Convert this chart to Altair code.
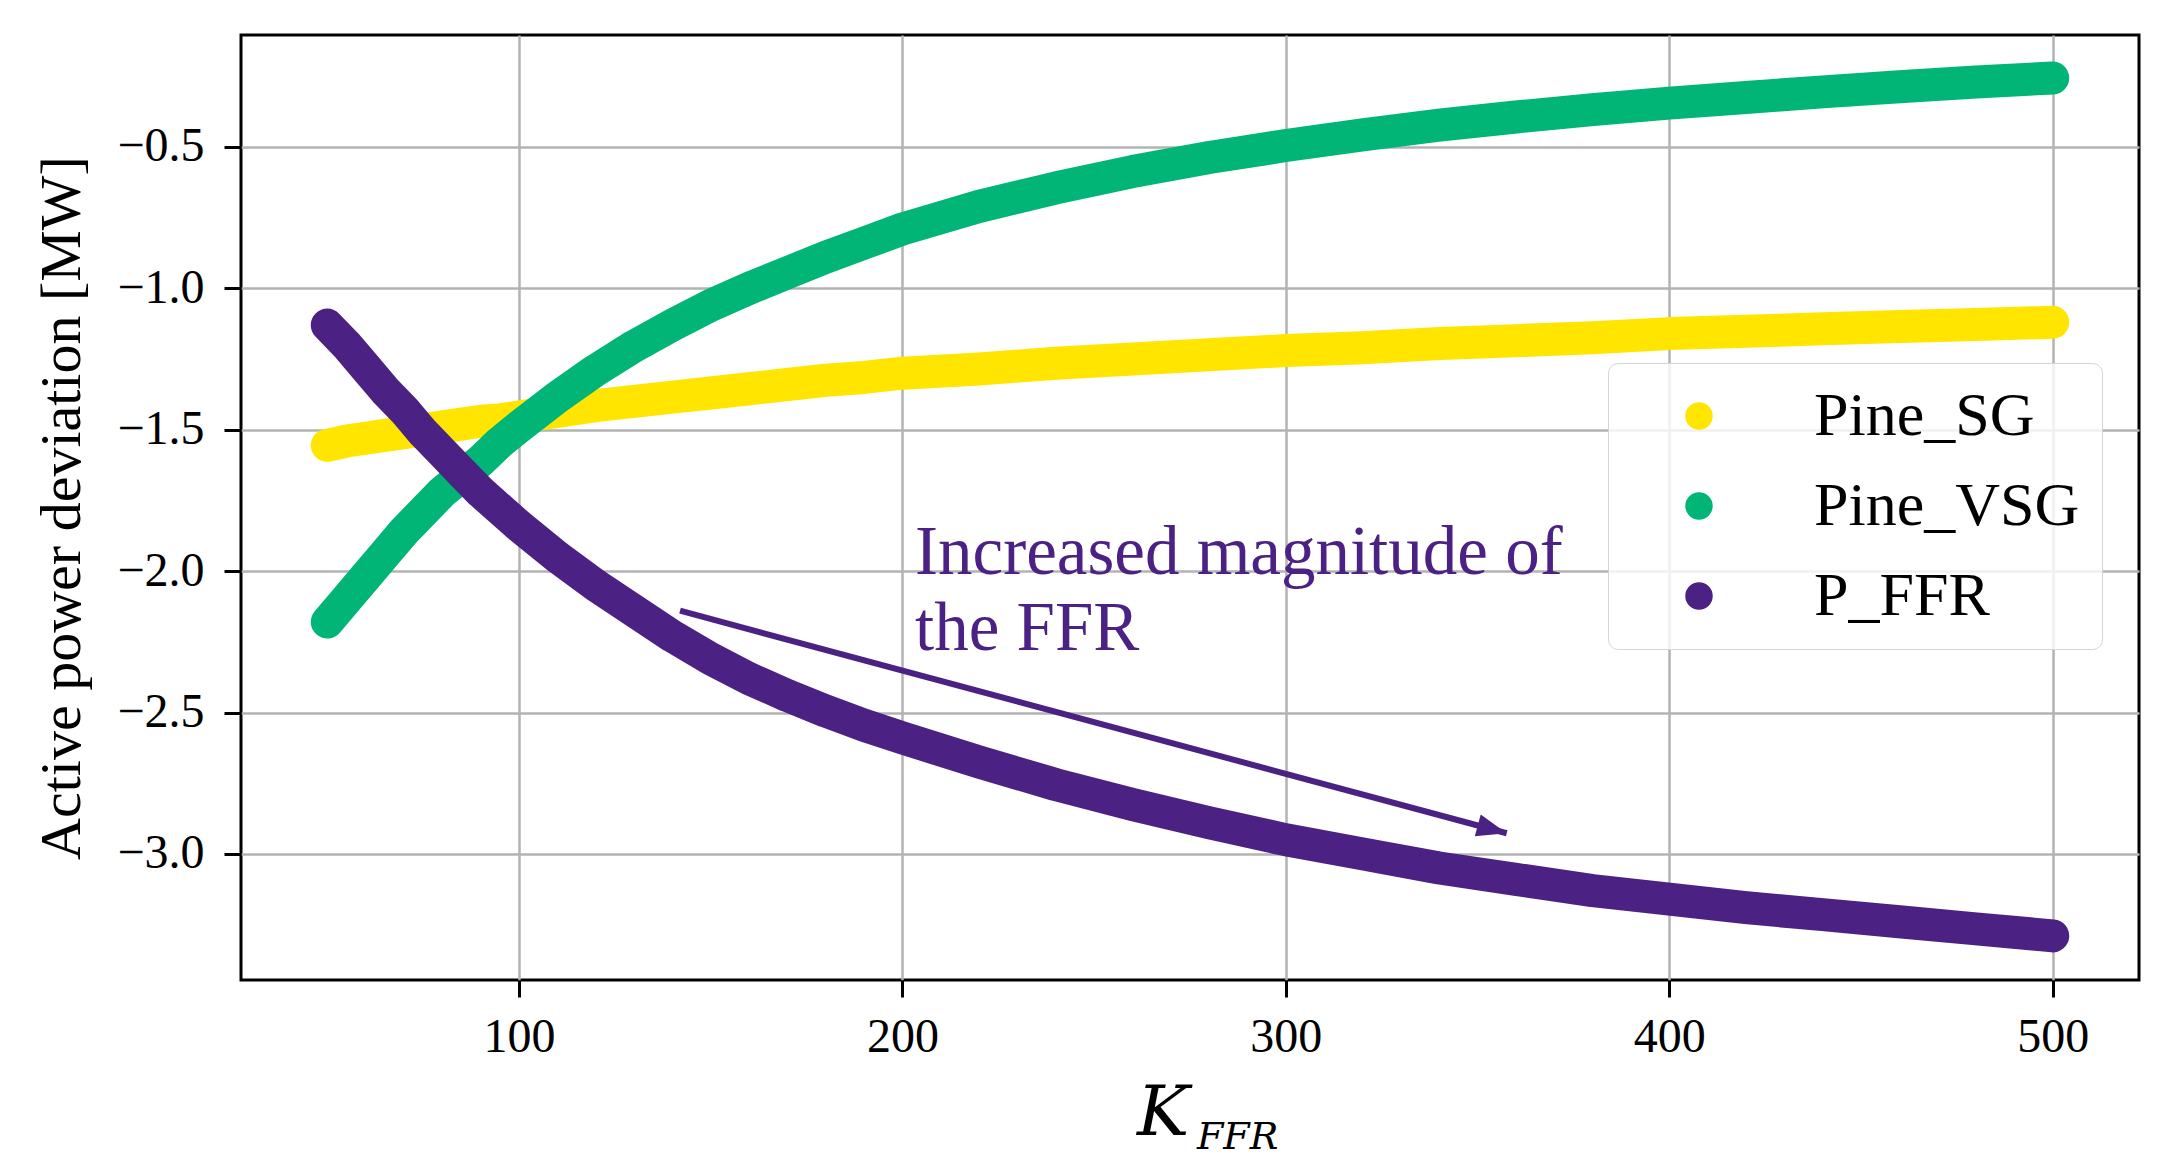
import altair as alt
import pandas as pd

# ---- data ----
K = [50, 55, 60, 65, 70, 75, 80, 85, 90, 95, 100,
     110, 120, 130, 140, 150, 160, 170, 180, 190, 200,
     220, 240, 260, 280, 300, 320, 340, 360, 380, 400, 420, 440, 460, 480, 500]

pine_sg = [-1.555, -1.54, -1.53, -1.52, -1.51, -1.50, -1.49, -1.48, -1.47, -1.465, -1.455,
           -1.435, -1.415, -1.40, -1.385, -1.37, -1.355, -1.34, -1.325, -1.315, -1.30,
           -1.285, -1.265, -1.25, -1.235, -1.22, -1.21, -1.195, -1.185, -1.175, -1.16,
           -1.152, -1.143, -1.135, -1.128, -1.12]

pine_vsg = [-2.18, -2.10, -2.02, -1.94, -1.86, -1.79, -1.72, -1.665, -1.61, -1.545, -1.49,
            -1.385, -1.29, -1.205, -1.13, -1.06, -1.0, -0.945, -0.89, -0.84, -0.79,
            -0.71, -0.645, -0.587, -0.537, -0.495, -0.457, -0.423, -0.394, -0.368, -0.345,
            -0.325, -0.305, -0.287, -0.27, -0.256]

p_ffr = [-1.13, -1.20, -1.28, -1.36, -1.43, -1.51, -1.58, -1.65, -1.72, -1.78, -1.84,
         -1.95, -2.05, -2.14, -2.23, -2.31, -2.38, -2.44, -2.495, -2.545, -2.59,
         -2.675, -2.755, -2.825, -2.89, -2.95, -3.00, -3.05, -3.09, -3.13, -3.16,
         -3.19, -3.215, -3.24, -3.265, -3.29]

series_names = ["Pine_SG", "Pine_VSG", "P_FFR"]
series_colors = ["#FFE500", "#00B576", "#4B2183"]

x_ticks = [100, 200, 300, 400, 500]
y_ticks = [-3.0, -2.5, -2.0, -1.5, -1.0, -0.5]

annot_lines = ["Increased magnitude of", "the FFR"]
annot_x = [203.3, 203.3]
annot_y = [-2.01, -2.28]

arrow_x = [142.0, 357.6]
arrow_y = [-2.14, -2.927]

# ---- build ----
X_DOM = [27.5, 522.5]
Y_DOM = [-3.446, -0.104]
W, H = 1898, 945
SERIF = "Liberation Serif"

xs = alt.Scale(domain=X_DOM, nice=False, zero=False)
ys = alt.Scale(domain=Y_DOM, nice=False, zero=False)
cs = alt.Scale(domain=series_names, range=series_colors)

x_axis = alt.Axis(values=x_ticks, title=None, labelFont=SERIF, labelFontSize=48,
                  labelColor="black", tickSize=17, tickWidth=3, tickColor="black",
                  labelPadding=16, domain=False, grid=True, gridColor="#b3b3b3",
                  gridWidth=2.5, format="d")
y_axis = alt.Axis(values=y_ticks, title="Active power deviation [MW]", format=".1f",
                  labelFont=SERIF, labelFontSize=48, labelColor="black", tickSize=17,
                  tickWidth=3, tickColor="black", labelPadding=20, domain=False,
                  grid=True, gridColor="#b3b3b3", gridWidth=2.5,
                  titleFont=SERIF, titleFontSize=58, titleFontWeight="normal",
                  titleColor="black", titleX=-179, titleY=H / 2, titleBaseline="middle",
                  titleAlign="center", titleAngle=270)


def X(field):
    return alt.X(field, scale=xs, axis=x_axis)


def Y(field):
    return alt.Y(field, scale=ys, axis=y_axis)


legend = alt.Legend(title=None, orient="none", legendX=1367, legendY=328,
                    symbolType="circle", symbolSize=755, symbolStrokeWidth=0,
                    labelFont=SERIF, labelFontSize=62, labelColor="black",
                    padding=22, symbolOffset=38, labelOffset=84, rowPadding=28,
                    cornerRadius=10, strokeColor="#d4d4d4",
                    fillColor="rgba(255,255,255,0.8)", labelLimit=0)

layers = []
series_vals = [pine_sg, pine_vsg, p_ffr]
for name, vals, col in zip(series_names, series_vals, series_colors):
    df = pd.DataFrame({"K": K, "P": vals, "series": name})
    base = alt.Chart(df)
    line = base.mark_line(color=col, strokeWidth=33, strokeCap="round",
                          strokeJoin="round").encode(
        x=X("K:Q"), y=Y("P:Q"), order="K:Q")
    pts = base.mark_circle(size=820, opacity=1).encode(
        x=X("K:Q"), y=Y("P:Q"),
        color=alt.Color("series:N", scale=cs, legend=legend))
    layers += [line, pts]

adf = pd.DataFrame({"x": arrow_x, "y": arrow_y})
arrow_line = alt.Chart(adf).mark_line(color="#4B2183", strokeWidth=6).encode(
    x=X("x:Q"), y=Y("y:Q"))
head_df = pd.DataFrame({"x": arrow_x[1:], "y": arrow_y[1:]})
arrow_head = alt.Chart(head_df).mark_point(
    shape="M0,0 L-2,-0.75 L-2,0.75 Z", filled=True, color="#4B2183", opacity=1,
    size=900, angle=15.2, strokeWidth=0).encode(
    x=X("x:Q"), y=Y("y:Q"))

tdf = pd.DataFrame({"t": annot_lines, "x": annot_x, "y": annot_y})
annot = alt.Chart(tdf).mark_text(font=SERIF, fontSize=69, color="#4B2183",
                                 align="left", baseline="alphabetic").encode(
    x=X("x:Q"), y=Y("y:Q"), text="t:N")

k_main = alt.Chart(pd.DataFrame({"t": ["K"]})).mark_text(
    font="DejaVu Serif", fontStyle="italic", fontSize=70, color="black",
    align="left", baseline="alphabetic").encode(
    x=alt.value(896), y=alt.value(1100), text="t:N")
k_sub = alt.Chart(pd.DataFrame({"t": ["FFR"]})).mark_text(
    font="DejaVu Serif", fontStyle="italic", fontSize=38, color="black",
    align="left", baseline="alphabetic").encode(
    x=alt.value(956), y=alt.value(1114), text="t:N")

chart = alt.layer(*layers, arrow_line, arrow_head, annot, k_main, k_sub).properties(
    width=W, height=H, background="white",
    autosize=alt.AutoSizeParams(type="none"),
    padding={"left": 233, "top": 27, "right": 20, "bottom": 180},
).configure_view(stroke="black", strokeWidth=3)

chart.save("out.html", embed_options={"renderer": "svg", "actions": False})
